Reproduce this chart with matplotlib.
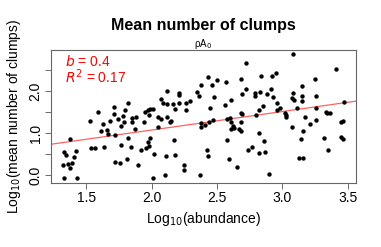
import matplotlib
matplotlib.use("Agg")
import matplotlib.pyplot as plt
import numpy as np

plt.rcParams['font.family'] = ['Liberation Sans', 'DejaVu Sans']

# log10(abundance) and log10(mean number of clumps)
log_abund = [
    1.32, 1.33, 1.33, 1.35, 1.36, 1.38, 1.38, 1.39, 1.41, 1.42,
    1.43, 1.53, 1.54, 1.57, 1.59, 1.61, 1.63, 1.64, 1.66, 1.67,
    1.68, 1.71, 1.71, 1.72, 1.72, 1.74, 1.76, 1.77, 1.77, 1.78,
    1.79, 1.80, 1.81, 1.82, 1.82, 1.84, 1.85, 1.85, 1.87, 1.88,
    1.90, 1.92, 1.94, 1.95, 1.96, 1.97, 1.97, 1.98, 1.98, 1.99,
    1.99, 2.01, 2.01, 2.02, 2.05, 2.05, 2.07, 2.07, 2.09, 2.10,
    2.11, 2.12, 2.12, 2.12, 2.14, 2.15, 2.16, 2.17, 2.18, 2.18,
    2.21, 2.21, 2.21, 2.25, 2.25, 2.26, 2.26, 2.29, 2.35, 2.36,
    2.37, 2.38, 2.38, 2.38, 2.43, 2.42, 2.43, 2.46, 2.48, 2.45,
    2.47, 2.44, 2.41, 2.50, 2.57, 2.56, 2.61, 2.58, 2.60, 2.61,
    2.58, 2.59, 2.62, 2.63, 2.61, 2.65, 2.68, 2.69, 2.72, 2.68,
    2.69, 2.68, 2.67, 2.68, 2.72, 2.74, 2.77, 2.79, 2.79, 2.83,
    2.84, 2.85, 2.82, 2.80, 2.82, 2.82, 2.86, 2.87, 2.88, 2.91,
    2.92, 2.93, 2.95, 2.96, 2.96, 2.98, 2.90, 3.02, 3.03, 3.03,
    3.07, 3.07, 3.08, 3.08, 3.09, 3.11, 3.14, 3.15, 3.15, 3.15,
    3.13, 3.16, 3.16, 3.17, 3.21, 3.25, 3.26, 3.26, 3.26, 3.32,
    3.33, 3.34, 3.36, 3.35, 3.41, 3.45, 3.46, 3.45, 3.46, 3.47,
]
log_clumps = [
    0.23, -0.07, 0.55, 0.48, 0.26, 0.85, 0.17, 0.29, 0.42, 0.58,
    -0.07, 1.29, 0.64, 0.64, 1.51, 1.05, 1.21, 0.66, 1.07, 0.98,
    1.29, 1.62, 1.45, 0.95, 0.31, 1.33, 0.29, 0.71, 1.17, 1.41,
    1.26, 1.55, 0.38, 1.72, 0.87, 0.67, 1.36, 1.25, 1.09, 1.37,
    0.23, 0.60, 1.25, 1.51, 0.64, 1.55, 0.78, 0.70, 1.43, 1.57,
    0.87, 1.56, -0.06, 0.49, 1.39, 1.14, 1.80, 1.33, 1.71, 0.00,
    0.45, 2.01, 1.37, 1.70, 1.27, 1.29, 1.69, 0.83, 1.57, 0.48,
    1.96, 1.90, 1.71, 0.24, 0.12, 1.72, 1.55, 1.76, 1.98, 1.88,
    0.00, 1.15, 1.23, 2.13, 2.34, 0.60, 0.45, 2.14, 1.86, 1.59,
    1.31, 1.27, 1.19, 2.25, 2.21, 1.67, 1.79, 1.33, 1.36, 1.27,
    0.83, 0.37, 1.17, 1.11, 1.09, 0.20, 2.28, 1.92, 2.05, 1.47,
    1.45, 1.27, 1.09, 1.05, 2.66, 0.60, 0.67, 1.95, 1.89, 1.98,
    2.36, 1.63, 1.55, 1.43, 0.99, 0.52, 0.81, 0.55, 1.92, 2.04,
    2.36, 1.86, 2.42, 1.71, 1.55, 1.59, 0.02, 1.48, 1.43, 1.39,
    1.15, 1.83, 1.95, 2.87, 1.79, 1.59, 0.85, 2.12, 1.88, 1.76,
    0.40, 0.41, 1.05, 1.39, 1.21, 2.29, 1.59, 1.31, 1.89, 0.87,
    1.51, 1.48, 1.48, 0.60, 2.52, 1.25, 1.29, 0.91, 0.85, 1.73,
]

# regression line as drawn
slope = 0.44
intercept = 0.19

x_ticks = [1.5, 2.0, 2.5, 3.0, 3.5]
y_ticks = [0.0, 0.5, 1.0, 1.5, 2.0, 2.5]
y_tick_labels = ['0.0', '', '1.0', '', '2.0', '']

fig = plt.figure(figsize=(3.81, 2.47), dpi=100)
ax = fig.add_axes([0.134, 0.259, 0.800, 0.539])

ax.scatter(log_abund, log_clumps, s=10, color='black', linewidths=0, zorder=3)

xlim = (1.232, 3.561)
xs = np.array(xlim)
ax.plot(xs, intercept + slope * xs, color='#ff6060', linewidth=0.9, zorder=2)

ax.set_xlim(*xlim)
ax.set_ylim(-0.19, 2.976)
ax.set_xticks(x_ticks)
ax.set_xticklabels([f'{t:.1f}' for t in x_ticks])
ax.set_yticks(y_ticks)
ax.set_yticklabels(y_tick_labels, rotation=90, va='center')
ax.tick_params(axis='both', direction='out', length=4, width=0.6,
               color='#555555', labelsize=10, pad=2)

for sp in ax.spines.values():
    sp.set_color('#666666')
    sp.set_linewidth(0.8)

ax.set_xlabel('Log$_{10}$(abundance)', fontsize=10, labelpad=3)
ax.set_ylabel('Log$_{10}$(mean number of clumps)', fontsize=10, labelpad=4)

ax.text(0.045, 0.915, '$b$ = 0.4', transform=ax.transAxes, color='red',
        fontsize=10, va='center', ha='left')
ax.text(0.045, 0.80, '$R^2$ = 0.17', transform=ax.transAxes, color='red',
        fontsize=10, va='center', ha='left')

fig.text(0.533, 0.895, 'Mean number of clumps', fontsize=11.5,
         fontweight='bold', ha='center', va='center')
fig.text(0.533, 0.822, 'ρA$_0$', fontsize=7, ha='center', va='center')

fig.savefig('out.png', dpi=100)
